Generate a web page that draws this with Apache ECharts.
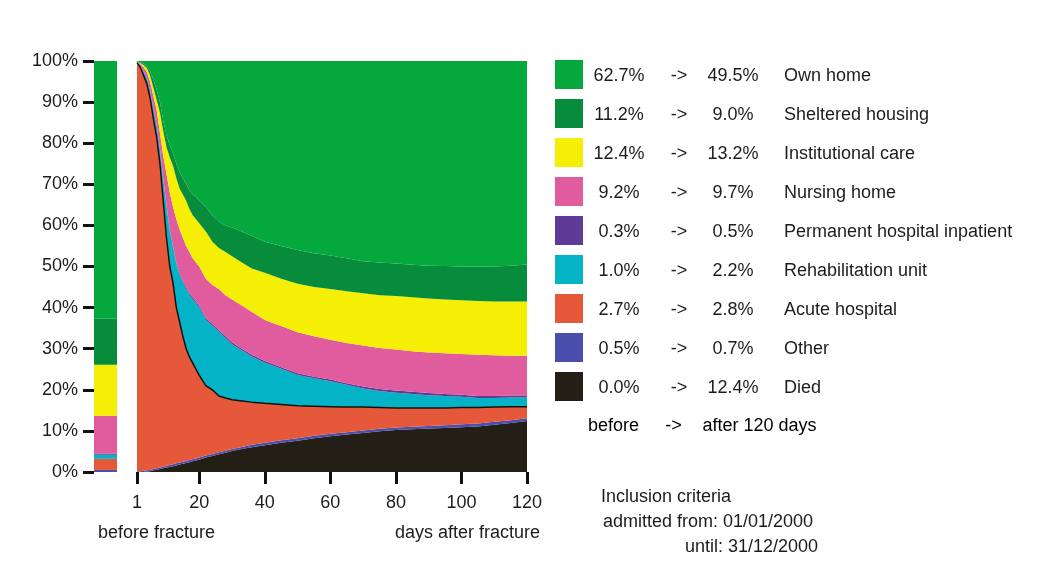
<!DOCTYPE html>
<html>
<head>
<meta charset="utf-8">
<script src="https://cdn.jsdelivr.net/npm/echarts@6/dist/echarts.min.js"></script>
<style>
  html, body { margin: 0; padding: 0; background: #fff; }
  #chart { width: 1040px; height: 584px; }
</style>
</head>
<body>
<div id="chart"></div>
<script>
// categories, legend order (top of stack first)
const names = ['Own home', 'Sheltered housing', 'Institutional care', 'Nursing home',
  'Permanent hospital inpatient', 'Rehabilitation unit', 'Acute hospital', 'Other', 'Died'];
const colors = ['#05a83d', '#078c3b', '#f5ee05', '#e05c9e', '#5e3b97', '#04b4c6', '#e6583a', '#4a4fae', '#231f17'];

// share before fracture and after 120 days (%)
const beforePct = [62.7, 11.2, 12.4, 9.2, 0.3, 1.0, 2.7, 0.5, 0.0];
const afterPct = [49.5, 9.0, 13.2, 9.7, 0.5, 2.2, 2.8, 0.7, 12.4];

// days after fracture (sampled)
const days = [1, 2, 3, 4, 5, 6, 7, 8, 9, 10, 11, 12, 13, 14, 15, 16, 17, 18, 19, 20,
  22, 24, 26, 28, 30, 33, 36, 40, 45, 50, 55, 60, 65, 70, 75, 80, 85, 90, 95, 100, 105, 110, 115, 120];
const dayTicks = [1, 20, 40, 60, 80, 100, 120];
const pctTicks = [0, 10, 20, 30, 40, 50, 60, 70, 80, 90, 100];

// share per day (%)
const ownHome = [0.1, 0.3, 0.6, 1.2, 2.5, 4.5, 7.0, 10.0, 14.5, 18.0, 20.5, 22.5, 25.0, 27.0, 28.5, 30.0, 31.5, 32.5, 33.0, 34.0,
  35.5, 37.5, 39.0, 40.0, 40.5, 41.5, 42.5, 44.0, 45.0, 46.0, 46.8, 47.3, 48.0, 48.7, 49.0, 49.3, 49.6, 49.8, 49.9, 50.0, 50.0, 50.0, 49.8, 49.5];
const sheltered = [0.1, 0.2, 0.4, 0.5, 1.0, 2.0, 2.5, 2.5, 2.5, 3.0, 3.0, 3.0, 3.5, 4.0, 4.0, 4.0, 4.5, 5.0, 5.5, 5.5,
  6.0, 6.5, 6.5, 6.5, 7.0, 7.5, 8.0, 7.5, 8.0, 8.2, 8.2, 8.2, 8.0, 7.8, 8.0, 7.9, 7.9, 8.0, 8.1, 8.2, 8.4, 8.5, 8.7, 9.0];
const institutional = [0.0, 0.2, 0.5, 1.0, 1.5, 2.0, 2.5, 5.0, 6.0, 6.5, 8.5, 10.0, 10.0, 10.0, 10.5, 11.0, 10.5, 10.5, 10.5, 10.5,
  11.5, 10.5, 10.0, 10.5, 10.5, 10.5, 10.5, 11.5, 11.5, 11.8, 12.0, 12.3, 12.6, 12.7, 12.8, 13.0, 13.1, 13.1, 13.1, 13.1, 13.1, 13.1, 13.2, 13.2];
const nursing = [0.1, 0.3, 1.0, 1.3, 2.0, 3.0, 3.5, 3.7, 5.5, 7.5, 9.0, 9.5, 10.5, 10.5, 10.5, 10.0, 10.0, 9.5, 9.5, 9.5,
  9.5, 9.5, 10.0, 10.0, 10.5, 10.5, 10.5, 10.0, 10.0, 10.0, 9.8, 9.7, 9.8, 10.0, 10.0, 10.0, 9.9, 9.9, 9.9, 9.9, 10.0, 9.9, 9.7, 9.7];
const permanent = [0.0, 0.1, 0.1, 0.2, 0.2, 0.3, 0.3, 0.3, 0.3, 0.4, 0.4, 0.4, 0.4, 0.4, 0.4, 0.4, 0.4, 0.4, 0.4, 0.4,
  0.4, 0.4, 0.4, 0.4, 0.4, 0.4, 0.4, 0.4, 0.4, 0.4, 0.4, 0.4, 0.4, 0.5, 0.5, 0.5, 0.5, 0.5, 0.5, 0.5, 0.5, 0.5, 0.5, 0.5];
const rehab = [0.1, 0.4, 0.9, 1.3, 1.8, 2.2, 2.7, 3.5, 5.2, 7.6, 8.6, 8.6, 10.6, 11.6, 13.1, 14.6, 15.1, 15.6, 16.1, 16.6,
  16.1, 15.6, 15.6, 14.6, 13.5, 12.3, 11.1, 9.9, 8.7, 7.5, 6.8, 6.2, 5.4, 4.5, 4.0, 3.7, 3.4, 3.1, 2.9, 2.6, 2.3, 2.2, 2.2, 2.2];
const acute = [99.4, 98.3, 96.2, 94.1, 90.5, 85.3, 80.6, 73.9, 64.7, 55.5, 48.3, 44.1, 37.9, 34.2, 30.5, 27.3, 25.1, 23.4, 21.7, 20.0,
  17.0, 15.6, 13.7, 12.8, 12.0, 11.2, 10.4, 9.6, 8.7, 7.9, 7.2, 6.6, 6.1, 5.7, 5.2, 4.8, 4.6, 4.4, 4.2, 4.1, 3.9, 3.6, 3.3, 2.8];
const other = [0.2, 0.2, 0.3, 0.3, 0.3, 0.3, 0.4, 0.4, 0.4, 0.4, 0.5, 0.5, 0.5, 0.5, 0.5, 0.5, 0.5, 0.5, 0.5, 0.5,
  0.5, 0.5, 0.5, 0.5, 0.5, 0.5, 0.6, 0.6, 0.6, 0.6, 0.6, 0.6, 0.6, 0.6, 0.6, 0.6, 0.6, 0.6, 0.7, 0.7, 0.7, 0.7, 0.7, 0.7];
const died = [0.0, 0.0, 0.0, 0.1, 0.2, 0.4, 0.5, 0.7, 0.9, 1.1, 1.2, 1.4, 1.6, 1.8, 2.0, 2.2, 2.4, 2.6, 2.8, 3.0,
  3.5, 3.9, 4.3, 4.7, 5.1, 5.6, 6.0, 6.5, 7.1, 7.6, 8.2, 8.7, 9.1, 9.5, 9.9, 10.2, 10.4, 10.6, 10.7, 10.9, 11.1, 11.5, 11.9, 12.4];

const daily = [ownHome, sheltered, institutional, nursing, permanent, rehab, acute, other, died];

const chart = echarts.init(document.getElementById('chart'));
const font = 'Liberation Sans, Arial, sans-serif';
const txt = '#1c1c1c';

// bottom of the stack first
const stackOrder = [8, 7, 6, 5, 4, 3, 2, 1, 0];

const barSeries = stackOrder.map(i => ({
  name: names[i],
  type: 'bar',
  xAxisIndex: 0,
  yAxisIndex: 0,
  stack: 'before',
  barWidth: '100%',
  itemStyle: { color: colors[i] },
  data: [beforePct[i]]
}));

// share first, day second, so that the stack runs on the share
const areaSeries = stackOrder.map(i => ({
  name: names[i],
  type: 'line',
  xAxisIndex: 1,
  yAxisIndex: 1,
  stack: 'after',
  symbol: 'none',
  smooth: false,
  encode: { x: 1, y: 0 },
  lineStyle: i === 6 ? { color: '#111', width: 1.5 } : { width: 0 },
  itemStyle: { color: colors[i] },
  areaStyle: { color: colors[i], opacity: 1 },
  data: days.map((d, k) => [daily[i][k], d])
}));

const rich = {
  b: { width: 62, align: 'right', fontSize: 18, fontFamily: font, color: txt },
  a: { width: 58, align: 'center', fontSize: 18, fontFamily: font, color: txt },
  c: { width: 50, align: 'right', fontSize: 18, fontFamily: font, color: txt },
  n: { padding: [0, 0, 0, 26], fontSize: 18, fontFamily: font, color: txt }
};

const option = {
  animation: false,
  backgroundColor: '#fff',
  grid: [
    { left: 94, top: 61, width: 23, height: 411, outerBoundsMode: 'none' },
    { left: 137, top: 61, width: 390, height: 411, outerBoundsMode: 'none' }
  ],
  xAxis: [
    {
      gridIndex: 0,
      type: 'category',
      data: ['before'],
      axisLine: { show: false },
      axisTick: { alignWithLabel: true, length: 37, lineStyle: { color: '#111', width: 3 } },
      axisLabel: { show: false },
      splitLine: { show: false }
    },
    {
      gridIndex: 1,
      type: 'value',
      min: 1,
      max: 120,
      axisLine: { show: false },
      axisTick: { customValues: dayTicks, length: 12, lineStyle: { color: '#111', width: 3 } },
      axisLabel: { customValues: dayTicks, margin: 22, fontSize: 18, fontFamily: font, color: txt },
      splitLine: { show: false }
    }
  ],
  yAxis: [
    {
      gridIndex: 0,
      type: 'value',
      min: 0,
      max: 100,
      interval: 10,
      axisLine: { show: false },
      axisTick: { show: true, length: 11, lineStyle: { color: '#111', width: 3 } },
      axisLabel: { customValues: pctTicks, formatter: '{value}%', margin: 16, fontSize: 18, fontFamily: font, color: txt },
      splitLine: { show: false }
    },
    { gridIndex: 1, type: 'value', min: 0, max: 100, show: false, splitLine: { show: false } }
  ],
  legend: {
    data: names,
    orient: 'vertical',
    left: 555,
    top: 60,
    padding: 0,
    icon: 'rect',
    itemWidth: 28,
    itemHeight: 29,
    itemGap: 10,
    itemTextGap: 5,
    selectedMode: false,
    textStyle: { fontSize: 18, fontFamily: font, color: txt, padding: [4, 0, 0, 0], rich: rich },
    formatter: name => {
      const i = names.indexOf(name);
      return '{b|' + beforePct[i].toFixed(1) + '%}{a|->}{c|' + afterPct[i].toFixed(1) + '%}{n|' + name + '}';
    }
  },
  graphic: [
    {
      type: 'text', left: 588, top: 417,
      style: { text: '{b|before}{a|->}{n|after 120 days}', rich: Object.assign({}, rich, { n: { fontSize: 18, fontFamily: font, color: txt } }) }
    },
    { type: 'text', left: 98, top: 524, style: { text: 'before fracture', fontSize: 18, fontFamily: font, fill: txt } },
    { type: 'text', right: 500, top: 524, style: { text: 'days after fracture', fontSize: 18, fontFamily: font, fill: txt } },
    { type: 'text', left: 601, top: 488, style: { text: 'Inclusion criteria', fontSize: 18, fontFamily: font, fill: txt } },
    { type: 'text', left: 603, top: 513, style: { text: 'admitted from: 01/01/2000', fontSize: 18, fontFamily: font, fill: txt } },
    { type: 'text', right: 222, top: 538, style: { text: 'until: 31/12/2000', fontSize: 18, fontFamily: font, fill: txt } }
  ],
  series: barSeries.concat(areaSeries)
};

chart.setOption(option);
window.addEventListener('resize', () => chart.resize());
</script>
</body>
</html>
